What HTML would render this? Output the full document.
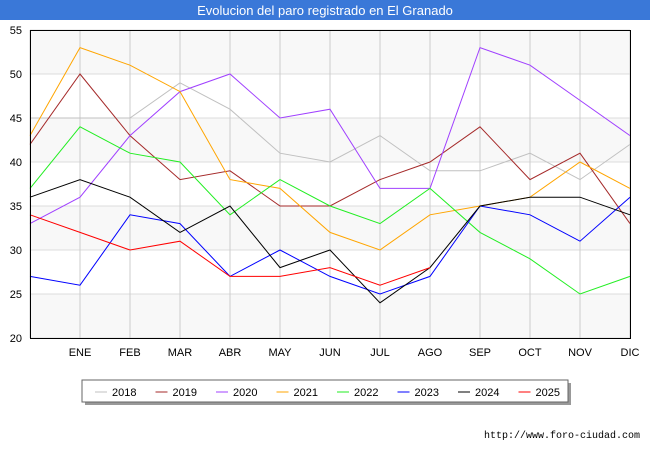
<!DOCTYPE html>
<html><head><meta charset="utf-8"><style>
body{margin:0;width:650px;height:450px;background:#fff;font-family:"Liberation Sans",sans-serif;overflow:hidden}
</style></head><body>
<svg width="650" height="450" xmlns="http://www.w3.org/2000/svg" id="chart">
<rect x="0" y="0" width="650" height="20" fill="#3a78d8"/>
<text x="325" y="15" text-anchor="middle" fill="#fff" font-size="13">Evolucion del paro registrado en El Granado</text>
<g id="bands"></g><g id="grid"></g><g id="series"></g>
<rect x="30.5" y="30.5" width="600" height="308" fill="none" stroke="#000"/>
<g id="ylab"></g><g id="xlab"></g>
<rect x="85" y="383" width="486" height="22" fill="#999"/>
<rect x="82" y="380" width="486" height="22" fill="#fff" stroke="#666"/>
<g id="legend"></g>
<text x="640" y="438" text-anchor="end" font-size="10" font-family="Liberation Mono, monospace">http://www.foro-ciudad.com</text>
</svg>
<script>
const months=["","ENE","FEB","MAR","ABR","MAY","JUN","JUL","AGO","SEP","OCT","NOV","DIC"];
const yTicks=[20,25,30,35,40,45,50,55];
const years=["2018","2019","2020","2021","2022","2023","2024","2025"];
const colors=["#c0c0c0","#a52a2a","#a040ff","#ffa500","#22ee22","#0000ff","#000000","#ff0000"];
const s2018=[45,45,45,49,46,41,40,43,39,39,41,38,42];
const s2019=[42,50,43,38,39,35,35,38,40,44,38,41,33];
const s2020=[33,36,43,48,50,45,46,37,37,53,51,47,43];
const s2021=[43,53,51,48,38,37,32,30,34,35,36,40,37];
const s2022=[37,44,41,40,34,38,35,33,37,32,29,25,27];
const s2023=[27,26,34,33,27,30,27,25,27,35,34,31,36];
const s2024=[36,38,36,32,35,28,30,24,28,35,36,36,34];
const s2025=[34,32,30,31,27,27,28,26,28];
const series=[s2018,s2019,s2020,s2021,s2022,s2023,s2024,s2025];
const NS="http://www.w3.org/2000/svg";
const x=i=>30+i*50, y=v=>338-(v-20)*8.8;
function mk(t,a,p){const e=document.createElementNS(NS,t);for(const k in a)e.setAttribute(k,a[k]);document.getElementById(p).appendChild(e);return e;}
for(let i=0;i<yTicks.length-1;i++){
 const b=mk("rect",{x:30,y:y(yTicks[i+1]),width:600,height:y(yTicks[i])-y(yTicks[i+1]),fill:i%2==0?"#f8f8f8":"#fff"},"bands");
 
 
}
yTicks.forEach(v=>{
 const l=mk("line",{x1:30,x2:630,y1:y(v),y2:y(v),stroke:"#ddd"},"grid");
 
 
 const t=mk("text",{x:22,y:y(v)+4,"text-anchor":"end","font-size":"11"},"ylab");t.textContent=v;
 
 
});
months.forEach((m,i)=>{
 const l=mk("line",{x1:x(i),x2:x(i),y1:30,y2:338,stroke:"#ccc"},"grid");
 
 
 if(m){const t=mk("text",{x:x(i),y:356,"text-anchor":"middle","font-size":"11"},"xlab");t.textContent=m;
 
 }
});
series.forEach((s,k)=>{
 const p=mk("polyline",{points:s.map((v,i)=>x(i)+","+y(v)).join(" "),fill:"none",stroke:colors[k],"stroke-width":1},"series");
 
 
 const lx=95+k*60.5;
 const ll=mk("line",{x1:lx,x2:lx+12,y1:392,y2:392,stroke:colors[k]},"legend");
 
 
 const lt=mk("text",{x:lx+17,y:396,"font-size":"11"},"legend");lt.textContent=years[k];
 
 
});
</script>
</body></html>
